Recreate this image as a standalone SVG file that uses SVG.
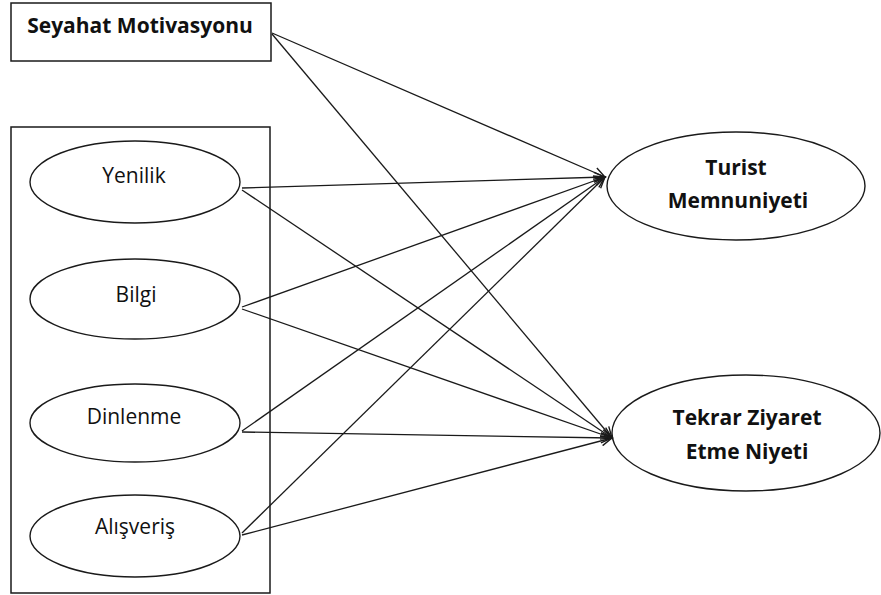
<svg xmlns="http://www.w3.org/2000/svg" width="881" height="595" viewBox="0 0 881 595">
<style>
.box{fill:#fff;stroke:#1a1a1a;stroke-width:1.5}
.ell{fill:#fff;stroke:#1a1a1a;stroke-width:1.4}
.t{font-family:"Open Sans","Liberation Sans",Arial,sans-serif;font-size:21px;fill:#111;text-anchor:middle}
.b{font-family:"Open Sans","Liberation Sans",Arial,sans-serif;font-size:21px;font-weight:bold;fill:#111;text-anchor:middle}
.c{stroke:#1a1a1a;stroke-width:1.3;fill:none;marker-end:url(#ah)}
</style>
<defs>
<marker id="ah" markerWidth="14" markerHeight="12" refX="12" refY="6" orient="auto" markerUnits="userSpaceOnUse">
<path d="M1,1 L12,6 L1,11" fill="none" stroke="#1a1a1a" stroke-width="1.4"/>
</marker>
</defs>
<g id="seyahat">
<rect class="box" x="11" y="3" width="260" height="58"/>
<text class="b" x="140" y="33">Seyahat Motivasyonu</text>
</g>
<g id="group-box">
<rect class="box" x="11" y="127" width="259" height="466"/>
</g>
<g id="yenilik">
<ellipse class="ell" cx="135" cy="182" rx="105" ry="41"/>
<text class="t" x="134" y="183">Yenilik</text>
</g>
<g id="bilgi">
<ellipse class="ell" cx="135" cy="299" rx="105" ry="40"/>
<text class="t" x="136" y="302">Bilgi</text>
</g>
<g id="dinlenme">
<ellipse class="ell" cx="135" cy="423" rx="105" ry="39"/>
<text class="t" x="134" y="424">Dinlenme</text>
</g>
<g id="alisveris">
<ellipse class="ell" cx="135" cy="536" rx="105" ry="41"/>
<text class="t" x="135" y="534">Alışveriş</text>
</g>
<g id="turist">
<ellipse class="ell" cx="736" cy="186" rx="129" ry="54"/>
<text class="b" x="736" y="175">Turist</text>
<text class="b" x="738" y="208">Memnuniyeti</text>
</g>
<g id="tekrar">
<ellipse class="ell" cx="746" cy="433" rx="134" ry="58"/>
<text class="b" x="747" y="425">Tekrar Ziyaret</text>
<text class="b" x="747" y="459">Etme Niyeti</text>
</g>
<g id="connectors">
<line class="c" x1="272" y1="33" x2="605" y2="177"/>
<line class="c" x1="272" y1="34" x2="612" y2="438"/>
<line class="c" x1="242" y1="188" x2="605" y2="177"/>
<line class="c" x1="242" y1="190" x2="612" y2="438"/>
<line class="c" x1="242" y1="307" x2="605" y2="177"/>
<line class="c" x1="242" y1="309" x2="612" y2="438"/>
<line class="c" x1="242" y1="431" x2="605" y2="177"/>
<line class="c" x1="242" y1="432" x2="612" y2="438"/>
<line class="c" x1="242" y1="533" x2="605" y2="177"/>
<line class="c" x1="242" y1="535" x2="612" y2="438"/>
</g>
</svg>
